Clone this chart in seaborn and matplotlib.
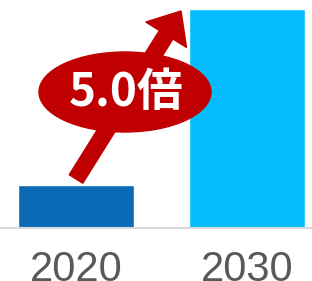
import matplotlib
matplotlib.use("Agg")
import matplotlib.pyplot as plt
from matplotlib.patches import FancyArrow, Ellipse
import seaborn as sns
import pandas as pd

sns.set_style("white")
plt.rcParams['font.family'] = ['Liberation Sans', 'DejaVu Sans']

# データ
years = ["2020", "2030"]
values = [1.0, 5.1]
colors = ["#0A6AB6", "#05BCFE"]
ratio_label = "5.0倍"

df = pd.DataFrame({"year": years, "value": values})

fig = plt.figure(figsize=(3.12, 2.81), dpi=100)
ax = fig.add_axes([0, 53 / 281, 1, 228 / 281])
sns.barplot(data=df, x="year", y="value", hue="year", palette=colors,
            width=0.68, saturation=1, legend=False, ax=ax)

ax.set_xlim(-76 / 171, 236 / 171)
ax.set_ylim(0, 228 / 43)
ax.set_xlabel("")
ax.set_ylabel("")
ax.set_yticks([])
for s in ["top", "left", "right"]:
    ax.spines[s].set_visible(False)
ax.spines["bottom"].set_color("#D9D9D9")
ax.spines["bottom"].set_linewidth(1.5)
ax.tick_params(axis="x", length=0, pad=16, labelsize=30, labelcolor="#595959")

# 矢印 (ピクセル座標 -> インチ)
def px(x, y):
    return x / 100, (281 - y) / 100

x0, y0 = px(76, 179)
x1, y1 = px(181, 11)
arrow = FancyArrow(x0, y0, x1 - x0, y1 - y0, width=0.16, head_width=0.48,
                   head_length=0.28, length_includes_head=True,
                   color="#C00000", transform=fig.dpi_scale_trans)
fig.add_artist(arrow)

cx, cy = px(125, 92)
ell = Ellipse((cx, cy), 1.72, 0.80, color="#C00000",
              transform=fig.dpi_scale_trans)
fig.add_artist(ell)
fig.text(cx + 0.01, cy - 0.01, ratio_label, transform=fig.dpi_scale_trans,
         ha="center", va="center", color="white", fontsize=33, fontweight="bold",
         family=["Noto Sans CJK JP", "DejaVu Sans"])

fig.savefig("out.png", dpi=100)
